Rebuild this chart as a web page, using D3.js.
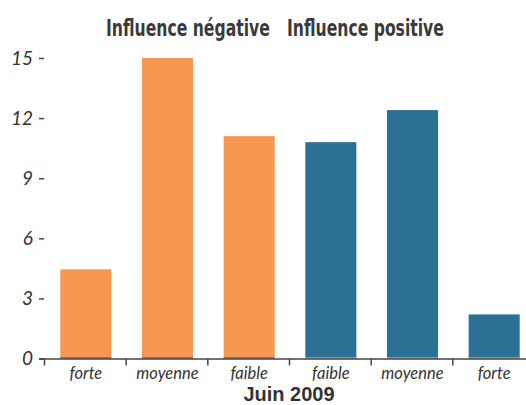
<!DOCTYPE html>
<html>
<head>
<meta charset="utf-8">
<script src="https://cdn.jsdelivr.net/npm/d3@7"></script>
<style>
  body { margin: 0; background: #fff; }
  svg { display: block; }
</style>
</head>
<body>
<div id="chart"></div>
<script>
const categories = ["forte", "moyenne", "faible", "faible", "moyenne", "forte"];
const negative = [4.45, 15, 11.1, 0, 0, 0];
const positive = [0, 0, 0, 10.8, 12.4, 2.2];
const yTicks = [0, 3, 6, 9, 12, 15];
const seriesNames = ["Influence négative", "Influence positive"];
const xTitle = "Juin 2009";

const width = 526, height = 405;
const colors = ["#f79651", "#2b7196"];

const svg = d3.select("#chart").append("svg")
  .attr("width", width)
  .attr("height", height);

const x = d3.scaleBand()
  .domain(d3.range(categories.length))
  .range([45, 535])
  .paddingInner(0.375)
  .paddingOuter(0.1875);

const y = d3.scaleLinear().domain([0, 15]).range([358.5, 58]);

const series = [negative, positive];

// bars
series.forEach((vals, s) => {
  svg.append("g")
    .selectAll("rect")
    .data(vals)
    .join("rect")
    .attr("x", (d, i) => x(i))
    .attr("width", x.bandwidth())
    .attr("y", d => y(d))
    .attr("height", d => y(0) - y(d))
    .attr("fill", colors[s]);
});

// zero-value series show as a thin line at the base
series.forEach((vals, s) => {
  svg.append("g")
    .selectAll("rect")
    .data(vals.map((d, i) => ({ d, i })).filter(o => o.d === 0))
    .join("rect")
    .attr("x", o => x(o.i))
    .attr("width", x.bandwidth())
    .attr("y", y(0) - 1.2)
    .attr("height", 1.2)
    .attr("fill", colors[s]);
});

// x axis line
svg.append("line")
  .attr("x1", 39).attr("x2", width)
  .attr("y1", y(0) + 0.5).attr("y2", y(0) + 0.5)
  .attr("stroke", "#444").attr("stroke-width", 1.5);

// x ticks at band boundaries
const step = x.step();
svg.append("g")
  .selectAll("line")
  .data(d3.range(categories.length))
  .join("line")
  .attr("x1", i => x(i) - step * 0.1875 - 0.5)
  .attr("x2", i => x(i) - step * 0.1875 - 0.5)
  .attr("y1", y(0))
  .attr("y2", y(0) + 7)
  .attr("stroke", "#444").attr("stroke-width", 1.5);

// x labels
svg.append("g")
  .selectAll("text")
  .data(categories)
  .join("text")
  .attr("x", (d, i) => x(i) + x.bandwidth() / 2)
  .attr("y", 379)
  .attr("text-anchor", "middle")
  .style("font-family", "Lato, 'Open Sans', sans-serif")
  .style("font-style", "italic")
  .style("font-size", "16.5px")
  .style("fill", "#333")
  .text(d => d);

// y axis: labels with short ticks, no line
const yG = svg.append("g");
yG.selectAll("text")
  .data(yTicks)
  .join("text")
  .attr("x", 33)
  .attr("y", d => y(d) + 6.5)
  .attr("text-anchor", "end")
  .style("font-family", "Lato, 'Open Sans', sans-serif")
  .style("font-style", "italic")
  .style("font-size", "19px")
  .style("fill", "#333")
  .text(d => d);
yG.selectAll("line")
  .data(yTicks)
  .join("line")
  .attr("x1", 39).attr("x2", 44)
  .attr("y1", d => y(d) + 0.5).attr("y2", d => y(d) + 0.5)
  .attr("stroke", "#444").attr("stroke-width", 1.5);

// series titles at the top, squeezed horizontally for a condensed look
const titlePos = [[106, 164], [287, 157]];
seriesNames.forEach((name, i) => {
  const g = svg.append("g");
  const t = g.append("text")
    .attr("x", 0)
    .attr("y", 0)
    .style("font-family", "'DejaVu Sans', sans-serif")
    .style("font-weight", "bold")
    .style("font-size", "23px")
    .style("fill", "#3a3a3a")
    .text(name);
  const sx = titlePos[i][1] / t.node().getComputedTextLength();
  g.attr("transform", `translate(${titlePos[i][0]},36) scale(${sx},1)`);
});

// x title
svg.append("text")
  .attr("x", 289)
  .attr("y", 401)
  .attr("text-anchor", "middle")
  .style("font-family", "'Liberation Sans', Arial, sans-serif")
  .style("font-weight", "bold")
  .style("font-size", "20px")
  .style("fill", "#333")
  .text(xTitle);
</script>
</body>
</html>
